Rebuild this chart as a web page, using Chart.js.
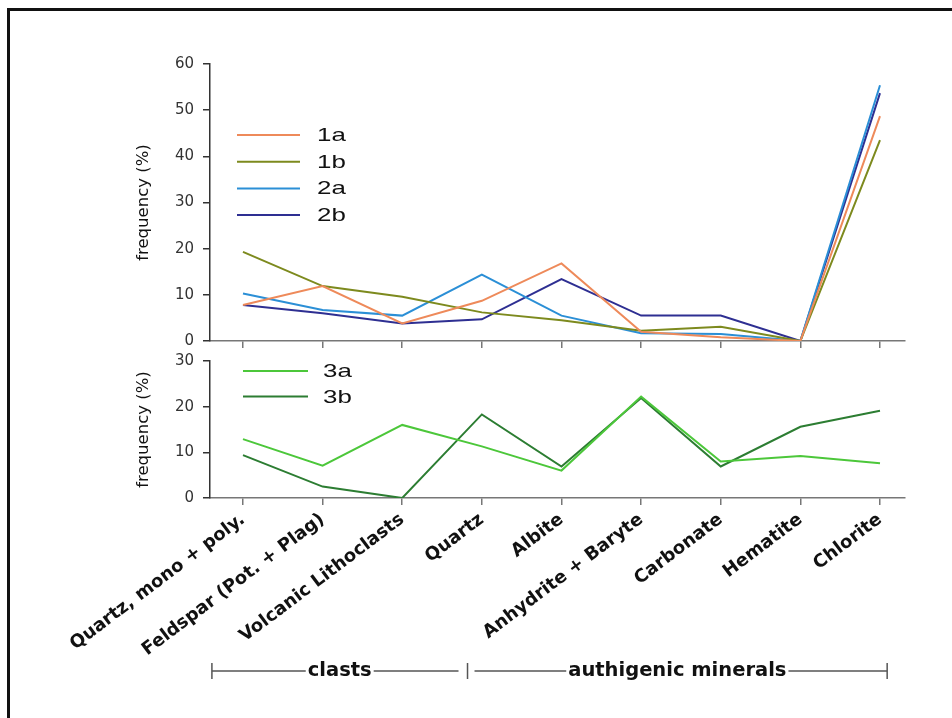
<!DOCTYPE html>
<html>
<head>
<meta charset="utf-8">
<script src="https://cdn.jsdelivr.net/npm/chart.js@4.4.1/dist/chart.umd.min.js"></script>
<style>
  html, body { margin: 0; padding: 0; background: #fff; }
  #page { position: relative; width: 952px; height: 718px; overflow: hidden; }
  #frame { position: absolute; left: 7px; top: 8px; width: 1000px; height: 800px;
           border-top: 3px solid #111; border-left: 3px solid #111; }
  canvas { position: absolute; left: 0; }
  #topChart { top: 0; }
  #bottomChart { top: 350px; }
</style>
</head>
<body>
<div id="page">
  <div id="frame"></div>
  <canvas id="topChart" width="952" height="350"></canvas>
  <canvas id="bottomChart" width="952" height="368"></canvas>
</div>
<script>
  // categories along the x axis
  const categories = ['Quartz, mono + poly.', 'Feldspar (Pot. + Plag)', 'Volcanic Lithoclasts',
    'Quartz', 'Albite', 'Anhydrite + Baryte', 'Carbonate', 'Hematite', 'Chlorite'];

  // frequency (%) per series
  const s1a = [7.8, 11.9, 3.8, 8.7, 16.8, 2.0, 0.8, 0, 48.7];
  const s1b = [19.3, 11.9, 9.6, 6.2, 4.5, 2.2, 3.1, 0, 43.5];
  const s2a = [10.3, 6.7, 5.5, 14.4, 5.5, 1.7, 1.5, 0, 55.4];
  const s2b = [7.8, 6.0, 3.8, 4.7, 13.4, 5.5, 5.5, 0, 53.7];
  const s3a = [12.9, 7.1, 16.0, 11.3, 6.0, 22.2, 8.0, 9.2, 7.6];
  const s3b = [9.4, 2.5, 0, 18.3, 6.9, 21.9, 6.9, 15.6, 19.1];

  const topTicks = [0, 60];
  const bottomTicks = [0, 30];
  const groups = [
    { label: 'clasts', from: -0.39, to: 2.82 },
    { label: 'authigenic minerals', from: 2.82, to: 8.09 }
  ];

  const AXIS_FONT = 'DejaVu Sans';

  function toPoints(values) {
    return values.map((v, i) => ({ x: i, y: v }));
  }

  function lineSet(label, values, color) {
    return {
      label: label,
      data: toPoints(values),
      borderColor: color,
      backgroundColor: color,
      borderWidth: 2,
      pointRadius: 0,
      tension: 0
    };
  }

  // vertical legend drawn inside the plot + group bracket under the labels
  const decor = {
    id: 'decor',
    afterDraw(chart, args, opts) {
      const ctx = chart.ctx;
      const area = chart.chartArea;
      ctx.save();
      if (opts.legend) {
        const lg = opts.legend;
        chart.data.datasets.forEach((ds, i) => {
          const y = area.top + lg.y + i * lg.step;
          const x0 = area.left + lg.x;
          ctx.strokeStyle = ds.borderColor;
          ctx.lineWidth = 2;
          ctx.beginPath();
          ctx.moveTo(x0, y);
          ctx.lineTo(x0 + lg.len, y);
          ctx.stroke();
          ctx.save();
          ctx.translate(x0 + lg.len + lg.gap, y + 1);
          ctx.scale(1.4, 1);
          ctx.fillStyle = '#111';
          ctx.font = '18.5px "Liberation Sans", Arial, sans-serif';
          ctx.textBaseline = 'middle';
          ctx.textAlign = 'left';
          ctx.fillText(ds.label, 0, 0);
          ctx.restore();
        });
      }
      if (opts.bracket) {
        const xs = chart.scales.x;
        const y = opts.bracket.y;
        ctx.strokeStyle = '#555';
        ctx.lineWidth = 1.5;
        ctx.font = 'bold 19.5px "DejaVu Sans", sans-serif';
        ctx.fillStyle = '#111';
        ctx.textBaseline = 'middle';
        ctx.textAlign = 'center';
        groups.forEach((g, gi) => {
          const a = xs.getPixelForValue(g.from);
          const b = xs.getPixelForValue(g.to);
          const mid = (a + b) / 2;
          const w = ctx.measureText(g.label).width;
          const ia = gi === 0 ? a : a + 7;
          const ib = gi === 0 ? b - 9 : b;
          ctx.beginPath();
          ctx.moveTo(ia, y);
          ctx.lineTo(mid - w / 2 - 2, y);
          ctx.moveTo(mid + w / 2 + 2, y);
          ctx.lineTo(ib, y);
          ctx.stroke();
          ctx.fillText(g.label, mid, y);
        });
        const caps = [groups[0].from, groups[0].to, groups[1].to];
        caps.forEach(v => {
          const px = xs.getPixelForValue(v);
          ctx.beginPath();
          ctx.moveTo(px, y - 8);
          ctx.lineTo(px, y + 8);
          ctx.stroke();
        });
      }
      ctx.restore();
    }
  };

  function xScale(showLabels, height) {
    return {
      type: 'linear',
      min: -0.414,
      max: 8.314,
      border: { color: '#777', width: 1.5 },
      grid: { drawOnChartArea: false, drawTicks: true, tickLength: 7, color: '#777', lineWidth: 1.5 },
      ticks: {
        stepSize: 1,
        includeBounds: false,
        autoSkip: false,
        minRotation: 37,
        maxRotation: 37,
        padding: 4,
        color: '#111',
        font: { family: AXIS_FONT, size: 18, weight: 'bold' },
        callback: v => showLabels ? categories[v] : ''
      },
      afterFit: s => { s.height = height; s.paddingLeft = 0; s.paddingRight = 0; }
    };
  }

  function yScale(range) {
    return {
      min: range[0],
      max: range[1],
      border: { color: '#333', width: 1.5 },
      grid: { drawOnChartArea: false, drawTicks: true, tickLength: 7, color: '#333', lineWidth: 1.5 },
      ticks: { stepSize: 10, padding: 9, color: '#333', font: { family: AXIS_FONT, size: 15 } },
      title: {
        display: true,
        text: 'frequency (%)',
        color: '#111',
        padding: { top: 19, bottom: 0 },
        font: { family: AXIS_FONT, size: 16.5 }
      },
      afterFit: s => { s.width = 95; s.paddingTop = 0; s.paddingBottom = 0; }
    };
  }

  function baseOptions(padTop, xs, ys, decorOpts) {
    return {
      responsive: false,
      animation: false,
      layout: { padding: { top: padTop, left: 115, right: 47, bottom: 0 } },
      plugins: {
        legend: { display: false },
        tooltip: { enabled: false },
        decor: decorOpts
      },
      scales: { x: xs, y: ys }
    };
  }

  new Chart(document.getElementById('topChart').getContext('2d'), {
    type: 'line',
    data: {
      datasets: [
        lineSet('1a', s1a, '#ee8a5a'),
        lineSet('1b', s1b, '#7d8a1e'),
        lineSet('2a', s2a, '#2b8fd6'),
        lineSet('2b', s2b, '#2e2f92')
      ]
    },
    options: baseOptions(64, xScale(false, 9), yScale(topTicks),
      { legend: { x: 27, y: 71, step: 26.7, len: 63, gap: 17 } }),
    plugins: [decor]
  });

  new Chart(document.getElementById('bottomChart').getContext('2d'), {
    type: 'line',
    data: {
      datasets: [
        lineSet('3a', s3a, '#4cc73a'),
        lineSet('3b', s3b, '#2c7d32')
      ]
    },
    options: baseOptions(11, xScale(true, 220), yScale(bottomTicks),
      { legend: { x: 33, y: 10, step: 25.5, len: 65, gap: 15 }, bracket: { y: 321 } }),
    plugins: [decor]
  });
</script>
</body>
</html>
